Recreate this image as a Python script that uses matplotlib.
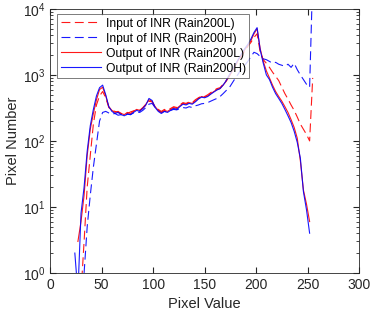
import numpy as np
import matplotlib
matplotlib.use("Agg")
import matplotlib.pyplot as plt
from matplotlib.ticker import LogLocator, MultipleLocator

plt.rcParams['font.family'] = ['Liberation Sans', 'DejaVu Sans']

# pixel values (bins)
pixel = np.arange(24, 256, 3)
nan = np.nan

in_L = [nan, nan, 0.5, 3, 20, 60, 180, 350, 480, 560, 450, 320, 290, 280, 270, 260,
        265, 260, 275, 285, 295, 290, 310, 350, 400, 390, 320, 300, 280, 300, 290, 310,
        330, 320, 350, 380, 370, 390, 380, 420, 450, 480, 470, 500, 540, 580, 620, 640,
        720, 820, 980, 1150, 1400, 1650, 1950, 2300, 2700, 3100, 3700, 4200, 2200, 1700,
        1500, 1300, 1100, 950, 820, 650, 520, 430, 350, 290, 230, 180, 150, 125, 100, 900]

in_H = [nan, nan, nan, 1, 5, 15, 40, 90, 200, 270, 280, 265, 255, 260, 245, 250,
        240, 255, 250, 265, 275, 270, 290, 320, 360, 370, 320, 290, 270, 280, 275, 290,
        300, 295, 310, 320, 315, 330, 320, 340, 350, 365, 370, 380, 400, 420, 440, 470,
        520, 580, 640, 760, 900, 1050, 1250, 1400, 1600, 1900, 2200, 2100, 1900, 1750,
        1700, 1600, 1500, 1550, 1450, 1400, 1350, 1450, 1300, 1500, 1200, 1000, 850, 720, 650, 30000]

out_L = [nan, 3, 6, 15, 60, 150, 260, 420, 600, 650, 480, 330, 290, 270, 280, 260,
         250, 270, 260, 280, 300, 290, 320, 360, 420, 400, 330, 290, 270, 290, 280, 300,
         320, 310, 340, 370, 360, 380, 370, 400, 440, 470, 460, 480, 520, 560, 600, 620,
         700, 800, 950, 1150, 1400, 1700, 2000, 2400, 2800, 3300, 4200, 5000, 2500, 1600,
         1150, 900, 700, 560, 470, 400, 330, 270, 210, 160, 110, 50, 18, 11, 6, nan]

out_H = [2, 0.5, 8, 20, 70, 170, 300, 480, 640, 700, 500, 330, 280, 260, 270, 250,
         240, 255, 250, 270, 290, 280, 310, 350, 440, 410, 320, 280, 260, 280, 270, 290,
         310, 300, 330, 360, 350, 370, 360, 390, 430, 460, 450, 470, 510, 550, 590, 620,
         700, 820, 1000, 1200, 1450, 1750, 2100, 2500, 2900, 3500, 4400, 5200, 2400, 1500,
         1000, 850, 650, 520, 440, 370, 300, 240, 190, 140, 95, 55, 17, 9, 4, nan]

fig = plt.figure(figsize=(3.74, 3.17), dpi=100)
ax = fig.add_axes([0.134, 0.139, 0.826, 0.833])

dash = (8, 4)
ax.semilogy(pixel, in_L, '--', dashes=dash, color=(1, 0, 0), lw=0.8, alpha=0.9,
            label='Input of INR (Rain200L)')
ax.semilogy(pixel, in_H, '--', dashes=dash, color=(0, 0, 1), lw=0.8, alpha=0.9,
            label='Input of INR (Rain200H)')
ax.semilogy(pixel, out_L, '-', color=(1, 0, 0), lw=0.8, alpha=0.9,
            label='Output of INR (Rain200L)')
ax.semilogy(pixel, out_H, '-', color=(0, 0, 1), lw=0.8, alpha=0.9,
            label='Output of INR (Rain200H)')

ax.set_xlim(0, 300)
ax.set_ylim(1, 1e4)
ax.xaxis.set_major_locator(MultipleLocator(50))
ax.yaxis.set_major_locator(LogLocator(base=10, numticks=10))
ax.yaxis.set_minor_locator(LogLocator(base=10, subs=np.arange(2, 10), numticks=10))
ax.tick_params(which='both', direction='in', top=True, right=True,
               labelsize=10, color='0.15', labelcolor='0.15')
ax.tick_params(which='major', length=4)
ax.tick_params(which='minor', length=2)
for s in ax.spines.values():
    s.set_color('0.15')
    s.set_linewidth(0.6)

ax.set_xlabel('Pixel Value', fontsize=10.5, color='0.15', labelpad=4)
ax.set_ylabel('Pixel Number', fontsize=10.5, color='0.15', labelpad=2)

leg = ax.legend(loc='upper left', bbox_to_anchor=(0.023, 0.981), fontsize=8.7,
                frameon=True, fancybox=False, handlelength=3.3, labelspacing=0.25,
                borderpad=0.3, handletextpad=0.4, borderaxespad=0)
leg.get_frame().set_edgecolor('0.25')
leg.get_frame().set_linewidth(0.6)

fig.savefig('out.png', dpi=100)
